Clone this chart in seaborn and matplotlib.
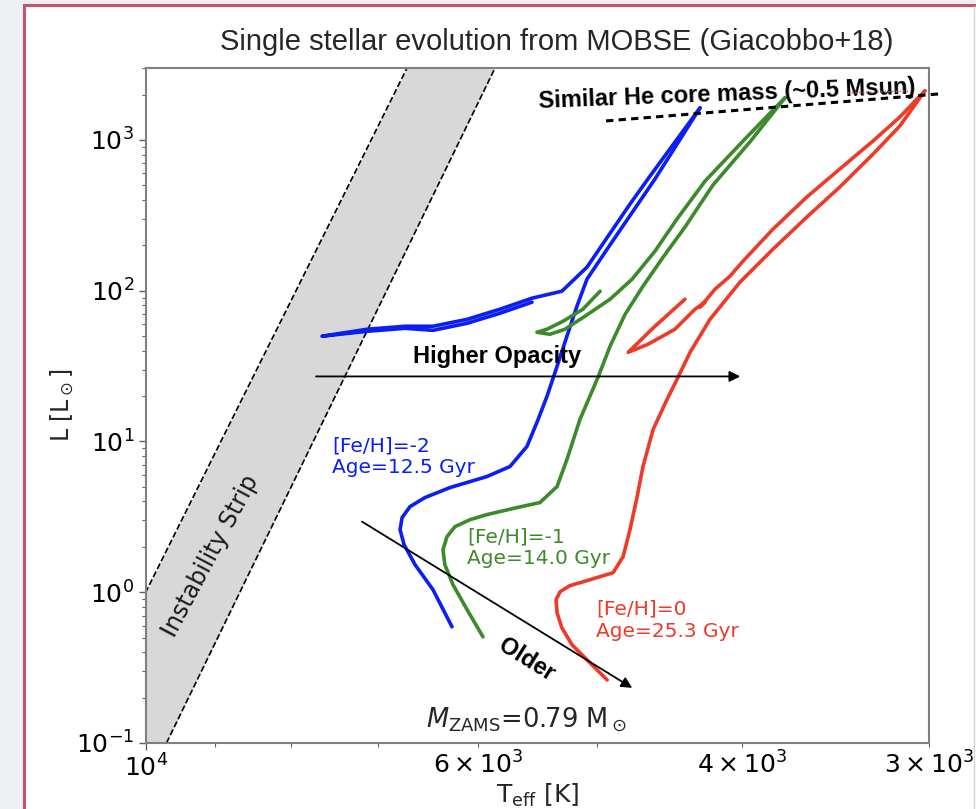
import matplotlib
matplotlib.use("Agg")
import matplotlib.pyplot as plt
from matplotlib.patches import Rectangle
from matplotlib.lines import Line2D
import numpy as np
import pandas as pd
import seaborn as sns

# ---------------- evolutionary tracks (Teff [K], L [Lsun]) ----------------
# [Fe/H] = -2, age 12.5 Gyr : main sequence -> red giant branch tip
blue_rgb_teff = [6247, 6432, 6612, 6725, 6766, 6745, 6663, 6512, 6266, 5920, 5714, 5567,
                 5482, 5398, 5315, 5235, 5155, 5076, 4921, 4572, 4266]
blue_rgb_lum = [0.590, 1.039, 1.523, 2.069, 2.602, 3.126, 3.700, 4.246, 4.946, 5.853, 6.822, 9.265,
                13.37, 19.91, 31.5, 49.9, 78.9, 119.2, 188.7, 550.6, 1632]
# core helium burning loop -> asymptotic giant branch
blue_hb_teff = [5524, 5802, 6103, 6432, 6714, 7118, 7629, 7118, 6714, 6432,
                6103, 5802, 5524, 5276, 5076, 4751, 4622, 4266]
blue_hb_lum = [83.9, 70.9, 60.8, 54.6, 56.3, 53.8, 49.9, 55.5, 58.1, 58.1,
               64.6, 75.4, 89.2, 99.2, 143.3, 375.5, 550.6, 1632]

# [Fe/H] = -1, age 14.0 Gyr
green_rgb_teff = [5956, 6103, 6237, 6316, 6334, 6295, 6218, 6075, 5920, 5653, 5457, 5315,
                  5235, 5131, 4991, 4899, 4787, 4657, 4515, 4366, 4182, 3951, 3744]
green_rgb_lum = [0.506, 0.765, 1.121, 1.523, 1.916, 2.337, 2.724, 3.031, 3.273, 3.643, 3.933, 5.023,
                 7.593, 14.0, 26.6, 42.8, 69.8, 107.1, 167.0, 264.2, 502.3, 970, 1902]
green_hb_teff = [4975, 5108, 5267, 5398, 5482, 5374, 5251, 5092, 4899, 4736,
                 4572, 4420, 4233, 3981, 3744]
green_hb_lum = [99.2, 75.4, 62.7, 55.5, 53.0, 51.4, 55.5, 67.7, 87.8, 119.2,
                183.0, 298.7, 534, 1015, 1902]

# [Fe/H] = 0, age 25.3 Gyr
red_rgb_teff = [4921, 5052, 5194, 5276, 5315, 5323, 5290, 5212, 5052, 4876, 4802, 4751,
                4699, 4657, 4585, 4488, 4420, 4332, 4201, 4012, 3813, 3620,
                3441, 3269, 3137, 3019]
red_rgb_lum = [0.262, 0.340, 0.448, 0.581, 0.731, 0.892, 1.008, 1.105, 1.211, 1.348, 1.721, 2.602,
               4.311, 6.822, 12.02, 19.0, 25.8, 39.0, 64.6, 113.9, 188.7, 307.8,
               487.2, 807, 1239, 2117]
red_hb_teff = [4366, 4572, 4765, 4622, 4434, 4299, 4233, 4266, 4169, 4074,
               3999, 3813, 3620, 3441, 3269, 3137, 3019]
red_hb_lum = [87.8, 58.1, 39.0, 44.1, 55.5, 75.4, 83.9, 77.7, 102.3, 124.8,
              154.6, 256.3, 418.1, 641.8, 985, 1422, 2117]

track_names = ["[Fe/H]=-2", "[Fe/H]=-1", "[Fe/H]=0"]
track_ages = ["12.5 Gyr", "14.0 Gyr", "25.3 Gyr"]
track_colors = ["#0a1ef5", "#3d8a2a", "#ee3a28"]

# instability strip edges (straight lines in log-log)
strip_lum = [0.1, 3000]
strip_blue_edge = [11230, 6694]
strip_red_edge = [9690, 5847]

# annotation arrows / guide line
opacity_arrow_teff = [7700, 4010]
opacity_arrow_lum = [27.0, 27.0]
older_arrow_teff = [7174, 4735]
older_arrow_lum = [2.94, 0.232]
he_core_teff = [4929, 2949]
he_core_lum = [1337, 2022]

# ---------------- long-form table ----------------
pieces = [
    (track_names[0], "rgb", blue_rgb_teff, blue_rgb_lum),
    (track_names[0], "hb", blue_hb_teff, blue_hb_lum),
    (track_names[1], "rgb", green_rgb_teff, green_rgb_lum),
    (track_names[1], "hb", green_hb_teff, green_hb_lum),
    (track_names[2], "rgb", red_rgb_teff, red_rgb_lum),
    (track_names[2], "hb", red_hb_teff, red_hb_lum),
]
rows = []
for name, branch, teff, lum in pieces:
    for i, (t, l) in enumerate(zip(teff, lum)):
        rows.append({"Teff": t, "L": l, "track": name,
                     "segment": f"{name}-{branch}", "order": i})
df = pd.DataFrame(rows)

# ---------------- figure ----------------
sns.set_theme(style="ticks")
plt.rcParams["font.family"] = ["DejaVu Sans"]
plt.rcParams["mathtext.fontset"] = "dejavusans"

fig = plt.figure(figsize=(9.76, 8.09), dpi=100)
fig.patch.set_facecolor("#eef1f3")
fig.add_artist(Rectangle((24 / 976, -0.02), 1.0, 0.02 + 804 / 809,
                         transform=fig.transFigure, facecolor="white",
                         edgecolor="#c9526b", lw=2.2, zorder=0))
fig.add_artist(Line2D([973.5 / 976] * 2, [0, 803 / 809], transform=fig.transFigure,
                      color="#d6d6d6", lw=1.0))

ax = fig.add_axes([146 / 976, 66 / 809, 783 / 976, 675 / 809])
ax.set_facecolor("white")
ax.set_xscale("log")
ax.set_yscale("log")

# instability strip
ax.fill_betweenx(strip_lum, strip_blue_edge, strip_red_edge,
                 color="#d8d8d8", lw=0, zorder=0.5)
ax.plot(strip_blue_edge, strip_lum, ls="--", color="black", lw=1.2, zorder=1)
ax.plot(strip_red_edge, strip_lum, ls="--", color="black", lw=1.2, zorder=1)

sns.lineplot(data=df, x="Teff", y="L", hue="track", units="segment",
             estimator=None, sort=False, palette=dict(zip(track_names, track_colors)),
             lw=2.6, legend=False, ax=ax, zorder=2)

ax.set_xlim(10000, 3000)
ax.set_ylim(0.1, 3000)

for s in ax.spines.values():
    s.set_color("#808080")
    s.set_linewidth(1.5)
ax.tick_params(which="both", direction="out", color="#606060", labelsize=18,
               labelcolor="black")
ax.tick_params(which="major", length=5, width=1.0)
ax.tick_params(which="minor", length=3, width=0.8)

ax.set_xlabel(r"T$_{\rm eff}$ [K]", fontsize=18, va="center")
ax.set_ylabel(r"L [L$_\odot$]", fontsize=17, va="center")
ax.xaxis.set_label_coords(0.5, -0.077)
ax.yaxis.set_label_coords(-0.107, 0.5)

# track labels
label_pos = [(0.2375, 0.424), (0.410, 0.289), (0.5747, 0.182)]
for name, age, col, (px, py) in zip(track_names, track_ages, track_colors, label_pos):
    ax.text(px, py, f"{name}\nAge={age}", transform=ax.transAxes, color=col,
            fontsize=14.5, ha="left", va="center")

ax.text(0.082, 0.277, "Instability Strip", transform=ax.transAxes, fontsize=17,
        rotation=62, ha="center", va="center", color="#1a1a1a")

ax.text(0.4866, 0.034, r"$M_{\rm ZAMS}$=0.79 M$_\odot$", transform=ax.transAxes,
        fontsize=18.5, ha="center", va="center")

# arrows and guide line
ax.annotate("", xy=(opacity_arrow_teff[1], opacity_arrow_lum[1]),
            xytext=(opacity_arrow_teff[0], opacity_arrow_lum[0]),
            arrowprops=dict(arrowstyle="-|>", color="black", lw=1.3,
                            mutation_scale=16, shrinkA=0, shrinkB=0), zorder=3)
ax.annotate("", xy=(older_arrow_teff[1], older_arrow_lum[1]),
            xytext=(older_arrow_teff[0], older_arrow_lum[0]),
            arrowprops=dict(arrowstyle="-|>", color="black", lw=1.3,
                            mutation_scale=16, shrinkA=0, shrinkB=0), zorder=3)
ax.plot(he_core_teff, he_core_lum, color="black", lw=2.2, ls=(0, (2.4, 1.7)),
        clip_on=False, zorder=3)

bold = dict(family="Liberation Sans", weight="bold", fontsize=17, color="black")
ax.text(0.4483, 0.572, "Higher Opacity", transform=ax.transAxes,
        ha="center", va="center", **bold)
ax.text(0.4866, 0.123, "Older", transform=ax.transAxes, rotation=-32,
        ha="center", va="center", **bold)
ax.text(0.742, 0.961, "Similar He core mass (~0.5 Msun)", transform=ax.transAxes,
        ha="center", va="center", rotation=2.2, rotation_mode="anchor", **bold)
fig.add_artist(Line2D([848 / 976, 908 / 976], [1 - 93 / 809, 1 - 91 / 809],
                      transform=fig.transFigure, color="#e05050", lw=1.0, ls=":"))

fig.text(557 / 976, 1 - 42 / 809, "Single stellar evolution from MOBSE (Giacobbo+18)",
         family="Liberation Sans", fontsize=21, ha="center", va="center")

fig.savefig("out.png", dpi=100, facecolor=fig.get_facecolor())
